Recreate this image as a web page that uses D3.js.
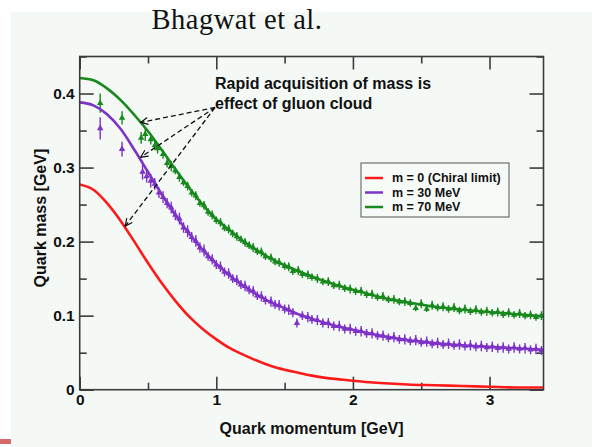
<!DOCTYPE html>
<html>
<head>
<meta charset="utf-8">
<script src="https://cdn.jsdelivr.net/npm/d3@7"></script>
<style>
  html, body { margin: 0; padding: 0; background: #ffffff; }
  svg { display: block; }
</style>
</head>
<body>
<svg id="chart" width="592" height="447"></svg>
<script>
// ---- Dyson-Schwinger mass functions (smooth curves) ----
const curveMomentum = [0, 0.1, 0.2, 0.3, 0.4, 0.5, 0.6, 0.7, 0.8, 0.9, 1.0, 1.1, 1.2, 1.3, 1.4, 1.5, 1.6, 1.7, 1.8, 1.9, 2.0, 2.2, 2.4, 2.6, 2.8, 3.0, 3.2, 3.4];
const massChiral = [0.277, 0.270, 0.252, 0.228, 0.200, 0.171, 0.144, 0.120, 0.099, 0.082, 0.068, 0.056, 0.047, 0.039, 0.032, 0.027, 0.023, 0.019, 0.016, 0.014, 0.012, 0.009, 0.007, 0.006, 0.005, 0.004, 0.003, 0.003];
const mass30 = [0.388, 0.384, 0.372, 0.352, 0.324, 0.294, 0.264, 0.236, 0.211, 0.189, 0.170, 0.154, 0.140, 0.128, 0.118, 0.110, 0.102, 0.096, 0.090, 0.085, 0.081, 0.073, 0.067, 0.063, 0.060, 0.058, 0.056, 0.054];
const mass70 = [0.421, 0.418, 0.407, 0.391, 0.371, 0.349, 0.324, 0.298, 0.273, 0.250, 0.230, 0.215, 0.200, 0.188, 0.177, 0.168, 0.160, 0.153, 0.146, 0.140, 0.135, 0.125, 0.118, 0.112, 0.108, 0.105, 0.102, 0.099];

// ---- lattice points: [momentum, mass, error] ----
const lattice30 = [
  [0.15,0.353,0.015],[0.31,0.325,0.010],[0.46,0.294,0.010],[0.49,0.288,0.008],[0.52,0.282,0.009],
  [0.55,0.278,0.008],[0.58,0.266,0.007],[0.61,0.260,0.008],[0.64,0.252,0.007],[0.67,0.246,0.008],
  [0.70,0.236,0.007],[0.73,0.231,0.008],[0.76,0.219,0.007],[0.79,0.214,0.008],[0.82,0.206,0.007],
  [0.85,0.201,0.008],[0.88,0.192,0.007],[0.91,0.188,0.008],[0.94,0.180,0.006],[0.97,0.176,0.007],
  [1.00,0.169,0.006],[1.03,0.166,0.007],[1.06,0.159,0.006],[1.09,0.157,0.007],[1.12,0.150,0.006],
  [1.15,0.148,0.007],[1.18,0.142,0.006],[1.21,0.140,0.007],[1.24,0.135,0.006],[1.27,0.133,0.007],
  [1.30,0.127,0.006],[1.33,0.126,0.007],[1.36,0.121,0.006],[1.40,0.119,0.007],[1.43,0.115,0.006],
  [1.46,0.114,0.007],[1.50,0.109,0.006],[1.53,0.108,0.007],[1.56,0.104,0.006],[1.59,0.090,0.006],
  [1.63,0.100,0.006],[1.67,0.098,0.007],[1.70,0.095,0.006],[1.74,0.094,0.007],[1.78,0.090,0.006],
  [1.82,0.090,0.007],[1.86,0.086,0.006],[1.90,0.086,0.007],[1.94,0.082,0.006],[1.98,0.082,0.007],
  [2.02,0.079,0.006],[2.06,0.079,0.007],[2.10,0.076,0.006],[2.14,0.076,0.007],[2.18,0.073,0.006],
  [2.22,0.073,0.007],[2.26,0.070,0.006],[2.30,0.071,0.007],[2.34,0.068,0.006],[2.38,0.068,0.007],
  [2.42,0.066,0.006],[2.46,0.067,0.007],[2.50,0.064,0.006],[2.54,0.065,0.007],[2.58,0.062,0.006],
  [2.62,0.063,0.007],[2.66,0.061,0.006],[2.70,0.062,0.007],[2.74,0.060,0.006],[2.78,0.061,0.007],
  [2.82,0.059,0.006],[2.86,0.060,0.007],[2.90,0.058,0.006],[2.94,0.059,0.007],[2.98,0.057,0.006],
  [3.02,0.058,0.007],[3.06,0.056,0.006],[3.10,0.057,0.007],[3.14,0.055,0.006],[3.18,0.057,0.007],
  [3.22,0.055,0.006],[3.26,0.056,0.007],[3.30,0.054,0.006],[3.34,0.055,0.007],[3.38,0.053,0.006]
];
const lattice70 = [
  [0.15,0.387,0.013],[0.31,0.367,0.009],[0.45,0.340,0.008],[0.48,0.345,0.009],[0.52,0.338,0.007],
  [0.55,0.330,0.006],[0.57,0.326,0.007],[0.61,0.318,0.006],[0.64,0.306,0.006],[0.67,0.302,0.007],
  [0.70,0.296,0.005],[0.73,0.287,0.006],[0.76,0.280,0.005],[0.79,0.275,0.006],[0.82,0.266,0.005],
  [0.85,0.262,0.006],[0.88,0.252,0.005],[0.91,0.249,0.006],[0.94,0.240,0.005],[0.97,0.236,0.006],
  [1.00,0.229,0.005],[1.03,0.226,0.006],[1.06,0.219,0.005],[1.09,0.217,0.006],[1.12,0.211,0.005],
  [1.15,0.207,0.006],[1.18,0.203,0.005],[1.21,0.199,0.006],[1.24,0.195,0.005],[1.27,0.192,0.006],
  [1.30,0.187,0.005],[1.33,0.186,0.006],[1.36,0.180,0.005],[1.40,0.178,0.006],[1.43,0.173,0.005],
  [1.46,0.172,0.006],[1.50,0.167,0.005],[1.53,0.166,0.006],[1.56,0.160,0.005],[1.60,0.161,0.006],
  [1.63,0.156,0.005],[1.67,0.155,0.006],[1.70,0.152,0.005],[1.74,0.150,0.006],[1.78,0.146,0.005],
  [1.82,0.146,0.006],[1.86,0.141,0.005],[1.90,0.141,0.006],[1.94,0.137,0.005],[1.98,0.136,0.006],
  [2.02,0.133,0.005],[2.06,0.133,0.006],[2.10,0.129,0.005],[2.14,0.129,0.006],[2.18,0.125,0.005],
  [2.22,0.126,0.006],[2.26,0.122,0.005],[2.30,0.122,0.006],[2.34,0.119,0.005],[2.38,0.119,0.006],
  [2.42,0.117,0.005],[2.46,0.110,0.004],[2.50,0.116,0.006],[2.54,0.109,0.004],[2.58,0.114,0.006],
  [2.62,0.111,0.005],[2.66,0.112,0.006],[2.70,0.109,0.005],[2.74,0.111,0.006],[2.78,0.107,0.005],
  [2.82,0.109,0.006],[2.86,0.106,0.005],[2.90,0.108,0.006],[2.94,0.105,0.005],[2.98,0.106,0.006],
  [3.02,0.104,0.005],[3.06,0.105,0.006],[3.10,0.102,0.005],[3.14,0.104,0.006],[3.18,0.101,0.005],
  [3.22,0.103,0.006],[3.26,0.100,0.005],[3.30,0.101,0.006],[3.34,0.098,0.005],[3.38,0.100,0.006]
];

const legendLabels = ["m = 0 (Chiral limit)", "m = 30 MeV", "m = 70 MeV"];
const xTickValues = [0, 1, 2, 3];
const yTickValues = [0, 0.1, 0.2, 0.3, 0.4];
const annotationLines = ["Rapid acquisition of mass is", "effect of gluon cloud"];

const RED = "#ff1a1a", PURPLE = "#7e32c8", GREEN = "#18891c";
const FRAME = "#3c3c3c";

const svg = d3.select("#chart");
const W = 592, H = 447;

// slide panel
svg.append("rect").attr("x", 11).attr("y", 12).attr("width", W - 11).attr("height", H - 12)
  .attr("fill", "#f4f9f6");
svg.append("rect").attr("x", 0).attr("y", 439).attr("width", 11).attr("height", 5).attr("fill", "#d46a6a");

// title
svg.append("text").attr("x", 237).attr("y", 28.5).attr("text-anchor", "middle")
  .attr("font-family", "'Liberation Serif', 'DejaVu Serif', serif").attr("font-size", 28.5)
  .attr("letter-spacing", 0.5).attr("fill", "#111").text("Bhagwat et al.");

const plotL = 79.7, plotR = 543.5, plotT = 56.5, plotB = 389.7;
const x = d3.scaleLinear().domain([0, 3.395]).range([plotL, plotR]);
const y = d3.scaleLinear().domain([0, 0.45]).range([plotB, plotT]);

const fontSans = "'Liberation Sans', Arial, Helvetica, sans-serif";

// ticks (pointing inward on all four sides)
function styleAxis(g) {
  g.select(".domain").remove();
  g.selectAll(".tick line").attr("stroke", FRAME).attr("stroke-width", 1.6);
  g.selectAll(".tick text").attr("font-family", fontSans).attr("font-weight", "bold")
    .attr("font-size", 15.5).attr("fill", "#111");
}
const xMinor = [0.5, 1.5, 2.5];
const yMinor = [0.05, 0.15, 0.25, 0.35, 0.45];

svg.append("g").attr("transform", `translate(0,${plotB})`)
  .call(d3.axisBottom(x).tickValues(xTickValues).tickSize(-13).tickPadding(4).tickFormat(d3.format("d")))
  .call(styleAxis);
svg.append("g").attr("transform", `translate(0,${plotB})`)
  .call(d3.axisBottom(x).tickValues(xMinor).tickSize(-7).tickFormat(""))
  .call(styleAxis);
svg.append("g").attr("transform", `translate(0,${plotT})`)
  .call(d3.axisTop(x).tickValues(xTickValues).tickSize(-13).tickFormat(""))
  .call(styleAxis);
svg.append("g").attr("transform", `translate(0,${plotT})`)
  .call(d3.axisTop(x).tickValues(xMinor).tickSize(-7).tickFormat(""))
  .call(styleAxis);
svg.append("g").attr("transform", `translate(${plotL},0)`)
  .call(d3.axisLeft(y).tickValues(yTickValues).tickSize(-14).tickPadding(5)
    .tickFormat(d => d === 0 ? "0" : d3.format(".1f")(d)))
  .call(styleAxis);
svg.append("g").attr("transform", `translate(${plotL},0)`)
  .call(d3.axisLeft(y).tickValues(yMinor).tickSize(-7).tickFormat(""))
  .call(styleAxis);
svg.append("g").attr("transform", `translate(${plotR},0)`)
  .call(d3.axisRight(y).tickValues(yTickValues).tickSize(-14).tickFormat(""))
  .call(styleAxis);
svg.append("g").attr("transform", `translate(${plotR},0)`)
  .call(d3.axisRight(y).tickValues(yMinor).tickSize(-7).tickFormat(""))
  .call(styleAxis);

// axis titles
svg.append("text").attr("x", (plotL + plotR) / 2).attr("y", 433.5).attr("text-anchor", "middle")
  .attr("font-family", fontSans).attr("font-weight", "bold").attr("font-size", 16)
  .attr("fill", "#111").text("Quark momentum [GeV]");
svg.append("text").attr("transform", `translate(45.5,${(plotT + plotB) / 2 - 5}) rotate(-90)`)
  .attr("text-anchor", "middle")
  .attr("font-family", fontSans).attr("font-weight", "bold").attr("font-size", 16)
  .attr("fill", "#111").text("Quark mass [GeV]");

// plot clip
svg.append("clipPath").attr("id", "plotclip").append("rect")
  .attr("x", plotL).attr("y", plotT).attr("width", plotR - plotL).attr("height", plotB - plotT);
const plot = svg.append("g").attr("clip-path", "url(#plotclip)");

// lattice data: error bars and triangles
function drawLattice(data, color) {
  const g = plot.append("g");
  g.selectAll("line.err").data(data).join("line").attr("class", "err")
    .attr("x1", d => x(d[0])).attr("x2", d => x(d[0]))
    .attr("y1", d => y(d[1] - d[2])).attr("y2", d => y(d[1] + d[2]))
    .attr("stroke", color).attr("stroke-width", 1.4);
  const tri = d3.symbol().type(d3.symbolTriangle).size(18);
  g.selectAll("path.pt").data(data).join("path").attr("class", "pt")
    .attr("transform", d => `translate(${x(d[0])},${y(d[1])})`)
    .attr("d", tri).attr("fill", color);
}
drawLattice(lattice30, PURPLE);
drawLattice(lattice70, GREEN);

// smooth mass functions
const line = d3.line().x(d => x(d[0])).y(d => y(d[1])).curve(d3.curveMonotoneX);
[[massChiral, RED], [mass30, PURPLE], [mass70, GREEN]].forEach(([m, c]) => {
  plot.append("path").datum(curveMomentum.map((p, i) => [p, m[i]]))
    .attr("d", line).attr("fill", "none").attr("stroke", c).attr("stroke-width", 2.6);
});

// frame
svg.append("rect").attr("x", plotL).attr("y", plotT).attr("width", plotR - plotL).attr("height", plotB - plotT)
  .attr("fill", "none").attr("stroke", FRAME).attr("stroke-width", 1.6);

// annotation with dashed arrows
annotationLines.forEach((t, i) => {
  svg.append("text").attr("x", 215).attr("y", 89 + i * 19.5)
    .attr("font-family", fontSans).attr("font-weight", "bold").attr("font-size", 16)
    .attr("fill", "#111").text(t);
});
const arrowFrom = [215, 107.5];
const arrowTargets = [[0.447, 0.361], [0.447, 0.314], [0.333, 0.221]];
arrowTargets.forEach(([p, m]) => {
  const tx = x(p), ty = y(m);
  svg.append("line").attr("x1", arrowFrom[0]).attr("y1", arrowFrom[1]).attr("x2", tx).attr("y2", ty)
    .attr("stroke", "#111").attr("stroke-width", 1.3).attr("stroke-dasharray", "5,3");
  const ang = Math.atan2(arrowFrom[1] - ty, arrowFrom[0] - tx);
  const L = 8, spread = 0.45;
  const p1 = [tx + L * Math.cos(ang + spread), ty + L * Math.sin(ang + spread)];
  const p2 = [tx + L * Math.cos(ang - spread), ty + L * Math.sin(ang - spread)];
  svg.append("path").attr("d", `M${p1}L${tx},${ty}L${p2}`)
    .attr("fill", "none").attr("stroke", "#111").attr("stroke-width", 1.2);
});

// legend
const lg = svg.append("g").attr("transform", "translate(361,163)");
lg.append("rect").attr("width", 148).attr("height", 54).attr("fill", "#f7fbf8")
  .attr("stroke", "#555").attr("stroke-width", 1);
[RED, PURPLE, GREEN].forEach((c, i) => {
  const yy = 15 + i * 14.5;
  lg.append("line").attr("x1", 4).attr("x2", 22).attr("y1", yy).attr("y2", yy)
    .attr("stroke", c).attr("stroke-width", 2.5);
  lg.append("text").attr("x", 31).attr("y", yy + 4.3)
    .attr("font-family", fontSans).attr("font-weight", "bold").attr("font-size", 12.5)
    .attr("fill", "#111").text(legendLabels[i]);
});
</script>
</body>
</html>
